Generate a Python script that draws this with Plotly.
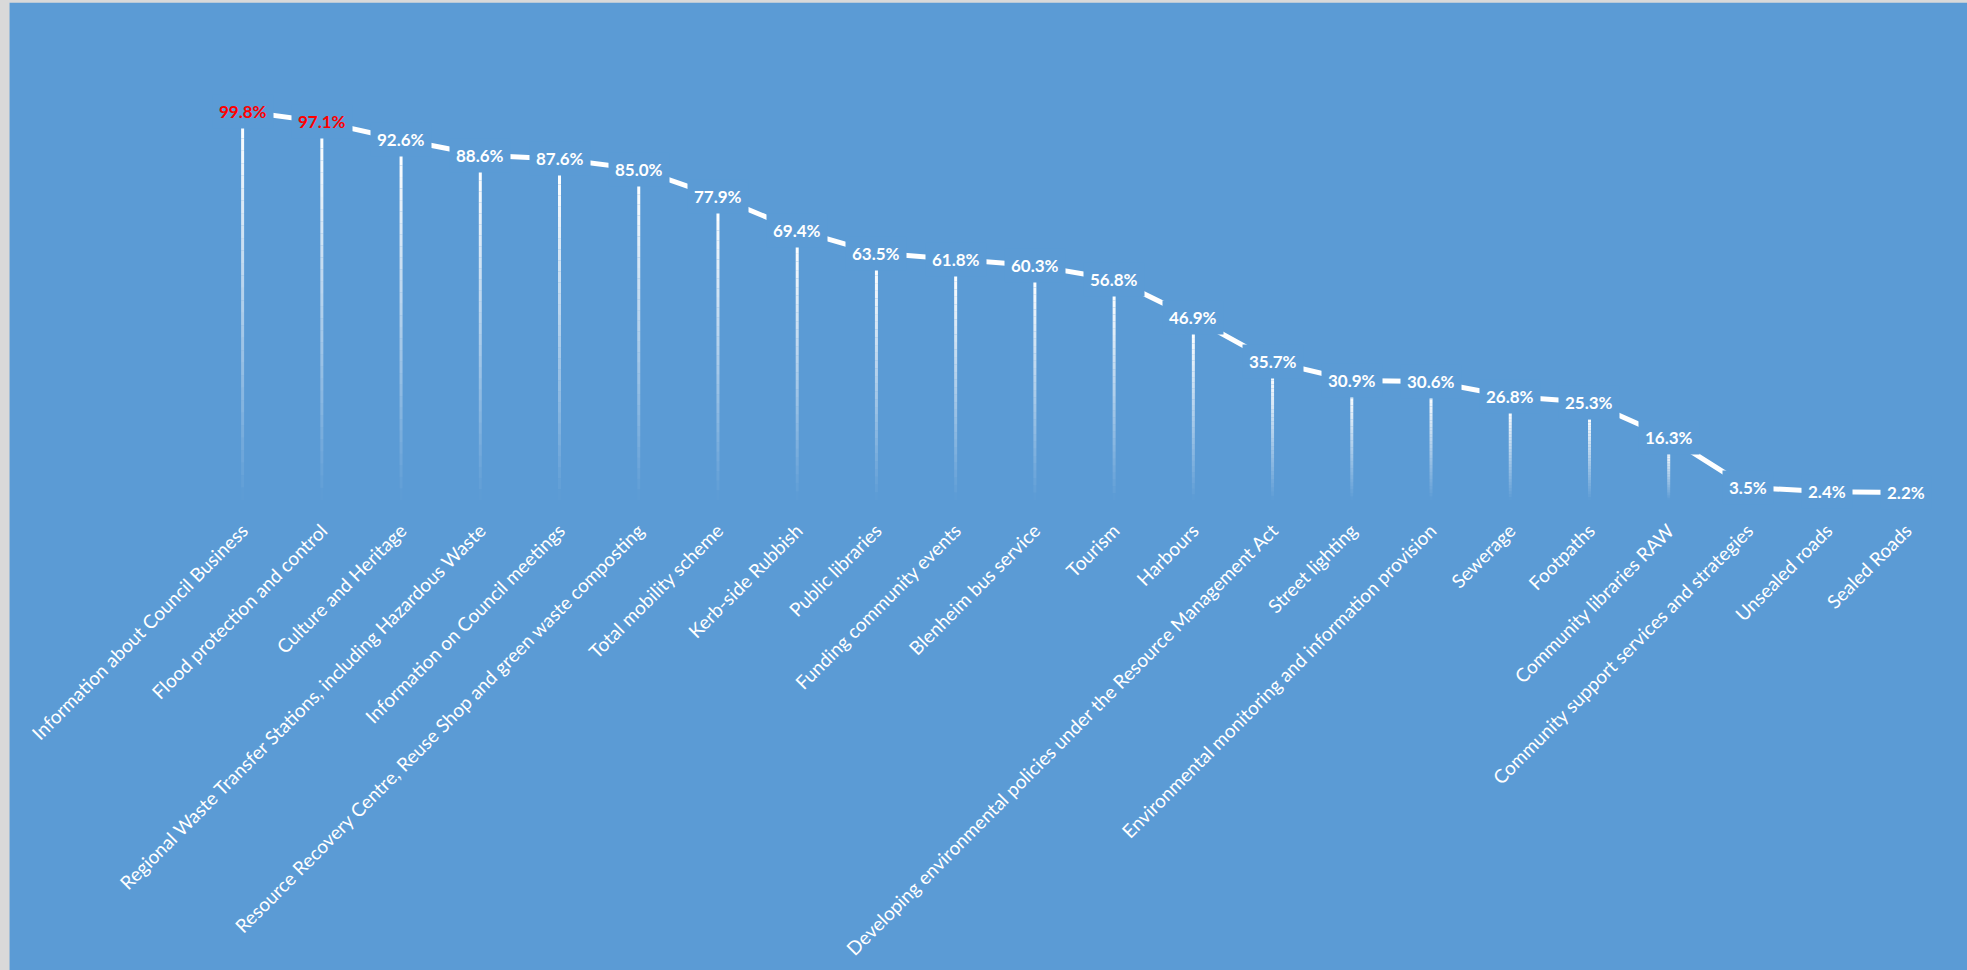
import plotly.graph_objects as go

categories = [
    "Information about Council Business",
    "Flood protection and control",
    "Culture and Heritage",
    "Regional Waste Transfer Stations, including Hazardous Waste",
    "Information on Council meetings",
    "Resource Recovery Centre, Reuse Shop and green waste composting",
    "Total mobility scheme",
    "Kerb-side Rubbish",
    "Public libraries",
    "Funding community events",
    "Blenheim bus service",
    "Tourism",
    "Harbours",
    "Developing environmental policies under the Resource Management Act",
    "Street lighting",
    "Environmental monitoring and information provision",
    "Sewerage",
    "Footpaths",
    "Community libraries RAW",
    "Community support services and strategies",
    "Unsealed roads",
    "Sealed Roads",
]
values = [99.8, 97.1, 92.6, 88.6, 87.6, 85.0, 77.9, 69.4, 63.5, 61.8, 60.3,
          56.8, 46.9, 35.7, 30.9, 30.6, 26.8, 25.3, 16.3, 3.5, 2.4, 2.2]
label_colors = ["#FF0000", "#FF0000"] + ["#FFFFFF"] * 20

BG = "#5B9BD5"
W, H = 1967, 970
YMIN, YMAX = 4, 110
ML, MR = 203.4, 21.0
MB = 470.0
px_per_unit = 3.904
plot_h = (YMAX - YMIN) * px_per_unit
MT = H - MB - plot_h
shift_units = 14.5 / px_per_unit

fig = go.Figure()

# gradient bars: stacked slices from the axis floor, opacity increasing toward the top
N = 30
for k in range(N):
    alpha = (k + 0.5) / N
    seg = [max(v - YMIN, 0) / N for v in values]
    base = [YMIN + max(v - YMIN, 0) * k / N for v in values]
    fig.add_trace(go.Bar(
        x=categories,
        y=seg,
        base=base,
        width=0.038,
        marker=dict(color=f"rgba(255,255,255,{alpha:.3f})", line=dict(width=0)),
        hoverinfo="skip",
        showlegend=False,
    ))

fig.add_trace(go.Scatter(
    x=categories, y=values, yaxis="y2", mode="lines",
    line=dict(color="white", width=5),
    cliponaxis=False, showlegend=False, hoverinfo="skip",
))

for c, v, col in zip(categories, values, label_colors):
    fig.add_annotation(
        x=c, y=v, xref="x", yref="y2", text=f"{v:.1f}%", showarrow=False,
        font=dict(family="Lato", size=17, color=col, weight=700),
        bgcolor=BG, borderpad=6, xanchor="center", yanchor="middle",
    )

plot_w = W - ML - MR
def px_x(p):
    return (p - ML) / plot_w
def px_y(p):
    return (H - p - MB) / plot_h

shapes = [
    dict(type="rect", xref="paper", yref="paper", x0=px_x(0), x1=px_x(10),
         y0=px_y(H), y1=px_y(0), fillcolor="#D9D9D9", line=dict(width=0), layer="above"),
    dict(type="rect", xref="paper", yref="paper", x0=px_x(0), x1=px_x(W),
         y0=px_y(3), y1=px_y(0), fillcolor="#D9D9D9", line=dict(width=0), layer="above"),
]

fig.update_layout(
    width=W, height=H,
    margin=dict(l=ML, r=MR, t=MT, b=MB, autoexpand=False),
    paper_bgcolor=BG, plot_bgcolor=BG,
    barmode="overlay",
    showlegend=False,
    shapes=shapes,
    xaxis=dict(tickangle=-45, tickfont=dict(family="Lato", size=19, color="white"),
               ticklabelstandoff=15,
               showgrid=False, zeroline=False, showline=False, ticks="", automargin=False),
    yaxis=dict(range=[YMIN, YMAX], visible=False, fixedrange=True),
    yaxis2=dict(range=[YMIN - shift_units, YMAX - shift_units], overlaying="y", visible=False),
)

fig.write_html("out.html")
